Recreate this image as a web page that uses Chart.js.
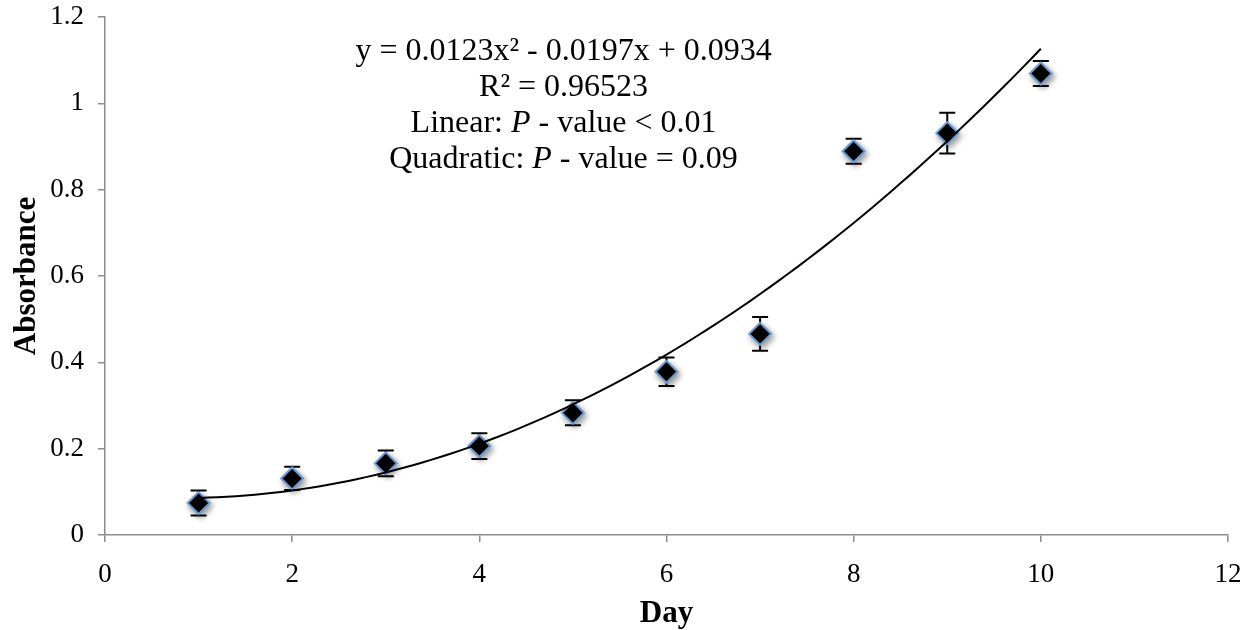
<!DOCTYPE html>
<html>
<head>
<meta charset="utf-8">
<script src="https://cdn.jsdelivr.net/npm/chart.js@4"></script>
<style>
  html, body { margin: 0; padding: 0; background: #fff; }
  #wrap { width: 1255px; height: 630px; }
</style>
</head>
<body>
<div id="wrap"><canvas id="grafico"></canvas></div>
<script>
    // absorbance per day, mean and error bar half-width
    const days = [1, 2, 3, 4, 5, 6, 7, 8, 9, 10];
    const absorbance = [0.074, 0.131, 0.166, 0.206, 0.283, 0.378, 0.466, 0.889, 0.931, 1.069];
    const erro = [0.029, 0.027, 0.030, 0.030, 0.029, 0.033, 0.039, 0.029, 0.047, 0.029];

    // quadratic trend: c0 + c1*x + c2*x^2
    const coef = [0.0934, -0.0197, 0.0123];

    const xTicks = [0, 2, 4, 6, 8, 10, 12];
    const yTicks = ['0', '0.2', '0.4', '0.6', '0.8', '1', '1.2'];

    const anotacao = [
        [['y = 0.0123x² - 0.0197x + 0.0934', false]],
        [['R² = 0.96523', false]],
        [['Linear: ', false], ['P', true], [' - value < 0.01', false]],
        [['Quadratic: ', false], ['P', true], [' - value = 0.09', false]]
    ];

    const pontos = days.map((d, i) => ({ x: d, y: absorbance[i] }));

    const tendencia = [];
    for (let x = days[0]; x <= days[days.length - 1] + 1e-9; x += 0.1) {
        tendencia.push({ x: x, y: coef[0] + coef[1] * x + coef[2] * x * x });
    }

    const fonte = 'Liberation Serif, Times New Roman, serif';

    const barrasErro = {
        id: 'barrasErro',
        beforeDatasetsDraw(chart) {
            const ctx = chart.ctx;
            const sx = chart.scales.x, sy = chart.scales.y;
            ctx.save();
            ctx.strokeStyle = '#000';
            ctx.lineWidth = 2;
            days.forEach((d, i) => {
                const px = sx.getPixelForValue(d);
                const top = sy.getPixelForValue(absorbance[i] + erro[i]);
                const bot = sy.getPixelForValue(absorbance[i] - erro[i]);
                ctx.beginPath();
                ctx.moveTo(px, top); ctx.lineTo(px, bot);
                ctx.moveTo(px - 8, top); ctx.lineTo(px + 8, top);
                ctx.moveTo(px - 8, bot); ctx.lineTo(px + 8, bot);
                ctx.stroke();
            });
            ctx.restore();
        }
    };

    const sombra = {
        id: 'sombra',
        beforeDatasetDraw(chart, args) {
            if (args.index !== 0) return;
            const ctx = chart.ctx;
            ctx.save();
            ctx.shadowColor = 'rgba(0,0,0,0.4)';
            ctx.shadowBlur = 6;
            ctx.shadowOffsetX = 2;
            ctx.shadowOffsetY = 3;
        },
        afterDatasetDraw(chart, args) {
            if (args.index !== 0) return;
            chart.ctx.restore();
        }
    };

    const texto = {
        id: 'texto',
        afterDraw(chart) {
            const ctx = chart.ctx;
            const cx = chart.scales.x.getPixelForValue(4.9);
            const y0 = chart.scales.y.getPixelForValue(1.12);
            const passo = 36;
            ctx.save();
            ctx.fillStyle = '#000';
            ctx.textBaseline = 'middle';
            ctx.textAlign = 'left';
            anotacao.forEach((linha, i) => {
                let largura = 0;
                linha.forEach(([t, it]) => {
                    ctx.font = (it ? 'italic ' : '') + '32px ' + fonte;
                    largura += ctx.measureText(t).width;
                });
                let x = cx - largura / 2;
                linha.forEach(([t, it]) => {
                    ctx.font = (it ? 'italic ' : '') + '32px ' + fonte;
                    ctx.fillText(t, x, y0 + i * passo);
                    x += ctx.measureText(t).width;
                });
            });
            ctx.restore();
        }
    };

    const config = {
        type: 'scatter',
        data: {
            datasets: [{
                label: 'Absorbance',
                data: pontos,
                pointStyle: 'rectRot',
                pointRadius: 11,
                pointBackgroundColor: '#000',
                pointBorderColor: '#6c9bd2',
                pointBorderWidth: 2,
                order: 1
            },
            {
                label: 'Trend',
                type: 'line',
                data: tendencia,
                showLine: true,
                borderColor: '#000',
                borderWidth: 2,
                pointRadius: 0,
                tension: 0,
                order: 0
            }]
        },
        options: {
            responsive: false,
            animation: false,
            layout: { padding: { left: 0, top: 17, right: 27, bottom: 0 } },
            plugins: { legend: { display: false }, tooltip: { enabled: false } },
            scales: {
                x: {
                    type: 'linear',
                    min: 0, max: 12,
                    afterFit: s => { s.height = 95; s.paddingLeft = 0; s.paddingRight = 0; },
                    afterBuildTicks: s => { s.ticks = xTicks.map(v => ({ value: v })); },
                    ticks: {
                        font: { family: fonte, size: 27 },
                        color: '#000',
                        padding: 17,
                        callback: v => String(v)
                    },
                    grid: { drawOnChartArea: false, tickLength: 7, color: '#8c8c8c', lineWidth: 1.5 },
                    border: { color: '#8c8c8c', width: 1.5 },
                    title: {
                        display: true,
                        text: 'Day',
                        font: { family: fonte, size: 31, weight: 'bold' },
                        color: '#000',
                        padding: { top: 0, bottom: -3 }
                    }
                },
                y: {
                    min: 0, max: 1.2,
                    afterFit: s => { s.width = 105; s.paddingTop = 0; s.paddingBottom = 0; },
                    afterBuildTicks: s => { s.ticks = yTicks.map(v => ({ value: parseFloat(v) })); },
                    ticks: {
                        font: { family: fonte, size: 27 },
                        color: '#000',
                        padding: 14,
                        callback: (v, i) => yTicks[i]
                    },
                    grid: { drawOnChartArea: false, tickLength: 7, color: '#8c8c8c', lineWidth: 1.5 },
                    border: { color: '#8c8c8c', width: 1.5 },
                    title: {
                        display: true,
                        text: 'Absorbance',
                        font: { family: fonte, size: 31, weight: 'bold' },
                        color: '#000',
                        padding: { top: 8, bottom: 0 }
                    }
                }
            }
        },
        plugins: [barrasErro, sombra, texto]
    };

    const c = document.getElementById('grafico');
    c.width = 1255;
    c.height = 630;
    const grafico = new Chart(c, config);
</script>
</body>
</html>
